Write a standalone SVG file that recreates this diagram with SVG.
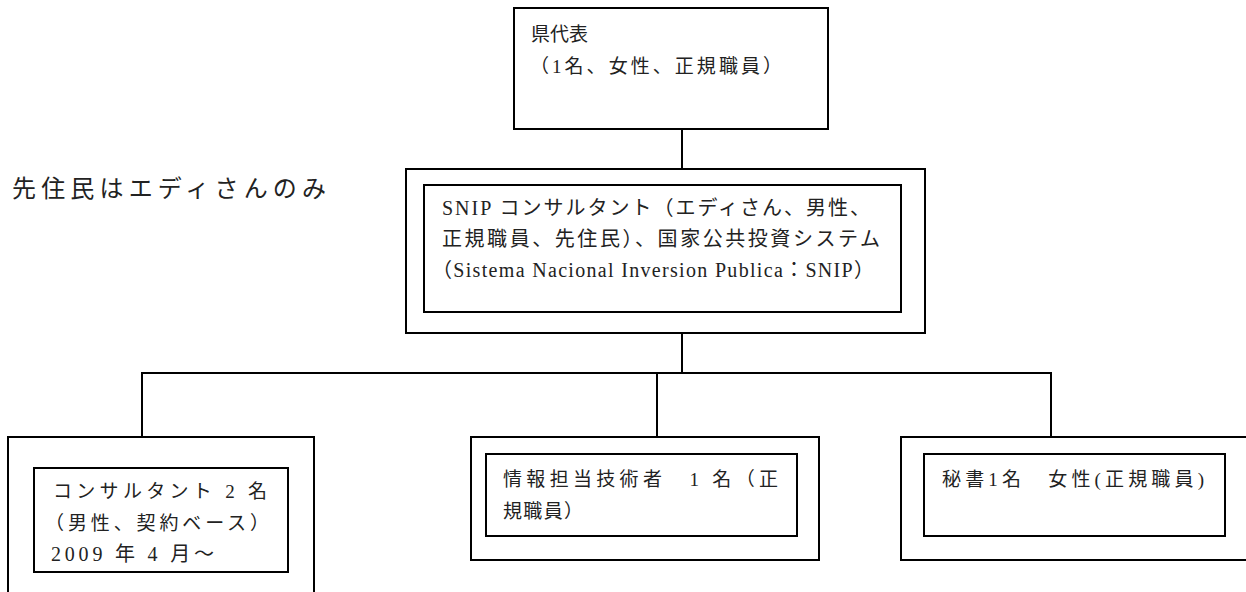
<svg xmlns="http://www.w3.org/2000/svg" width="1246" height="592" viewBox="0 0 1246 592">
<style>
.box{fill:#fff;stroke:#000;stroke-width:2}
.in{fill:none;stroke:#000;stroke-width:2}
.c{stroke:#000;stroke-width:2;fill:none}
text{font-family:"Liberation Serif","Noto Sans CJK JP",serif;font-size:19px;fill:#222}
.m{font-size:20px}
</style>
<rect width="1246" height="592" fill="#fff"/>
<g id="connectors">
<line class="c" x1="682" y1="129" x2="682" y2="169"/>
<line class="c" x1="682" y1="333" x2="682" y2="373"/>
<polyline class="c" points="142,437 142,373 1051,373 1051,437"/>
<line class="c" x1="657" y1="373" x2="657" y2="437"/>
</g>
<g id="top">
<rect class="box" x="514" y="8" width="314" height="121"/>
<text x="531" y="41" textLength="57" lengthAdjust="spacing">県代表</text>
<text x="530" y="73" textLength="252" lengthAdjust="spacing">（1名、女性、正規職員）</text>
</g>
<text id="note" x="12" y="197" style="font-size:24px" textLength="314" lengthAdjust="spacing">先住民はエディさんのみ</text>
<g id="snip">
<rect class="box" x="406" y="169" width="519" height="164"/>
<rect class="in" x="424" y="185" width="477" height="127"/>
<text class="m" x="442" y="215" textLength="428" lengthAdjust="spacing">SNIP コンサルタント（エディさん、男性、</text>
<text class="m" x="442" y="246" textLength="438" lengthAdjust="spacing">正規職員、先住民）、国家公共投資システム</text>
<text class="m" x="432" y="277" textLength="442" lengthAdjust="spacing">（Sistema Nacional Inversion Publica：SNIP）</text>
</g>
<g id="consultants">
<rect class="box" x="8" y="437" width="306" height="170"/>
<rect class="in" x="34" y="468" width="254" height="104"/>
<text x="53" y="498" textLength="214" lengthAdjust="spacing">コンサルタント 2 名</text>
<text x="45" y="530" textLength="224" lengthAdjust="spacing">（男性、契約ベース）</text>
<text class="m" x="51" y="561" textLength="163" lengthAdjust="spacing">2009 年 4 月～</text>
</g>
<g id="it">
<rect class="box" x="471" y="437" width="348" height="123"/>
<rect class="in" x="486" y="454" width="311" height="82"/>
<text x="503" y="486" textLength="275" lengthAdjust="spacing">情報担当技術者　1 名（正</text>
<text x="503" y="518" textLength="80" lengthAdjust="spacing">規職員）</text>
</g>
<g id="secretary">
<rect class="box" x="901" y="437" width="360" height="123"/>
<rect class="in" x="924" y="454" width="301" height="82"/>
<text x="942" y="486" textLength="262" lengthAdjust="spacing">秘書1名　女性(正規職員)</text>
</g>
</svg>
